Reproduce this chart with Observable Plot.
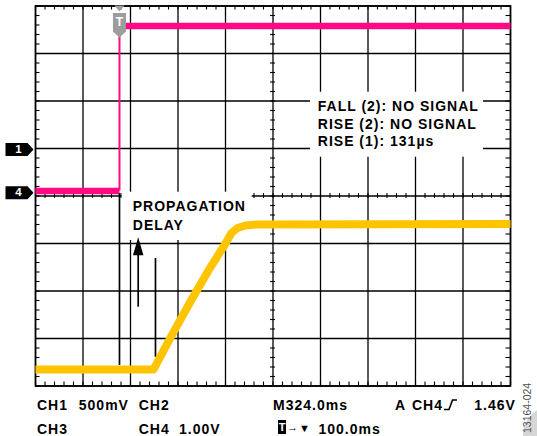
<!DOCTYPE html>
<html><head><meta charset="utf-8">
<script src="https://cdn.jsdelivr.net/npm/d3@7"></script>
<script src="https://cdn.jsdelivr.net/npm/@observablehq/plot@0.6"></script>
<style>
body{margin:0;background:#fff;}
#wrap{position:relative;width:537px;height:436px;overflow:hidden;background:#fff;font-family:"Liberation Sans",Arial,sans-serif;}
#chart{position:absolute;left:0;top:0;}
.lab{position:absolute;font-size:14px;font-weight:bold;line-height:14px;letter-spacing:1px;white-space:nowrap;color:#000;}
.sym{position:absolute;line-height:10px;white-space:nowrap;color:#000;font-weight:bold;}
</style></head><body>
<div id="wrap"><div id="chart"></div></div>
<script>
// ---- screen grid (divisions) ----
const xDivisions = [0, 10];
const yDivisions = [-4, 4];
const minorStep = 0.2;

// ---- pink trace (channel 4 level before / after the edge), in divisions ----
const pinkTime  = [0, 1.768, 1.768, 10];
const pinkLevel = [0.105, 0.105, 3.579, 3.579];
const pinkSegment = ["low", "low", "high", "high"];

// ---- yellow trace, in divisions ----
const yellowTime  = [0, 2.484, 2.842, 3.263, 3.642, 4.0, 4.126, 4.253, 4.421, 4.653, 10];
const yellowLevel = [-3.653, -3.653, -2.979, -2.221, -1.568, -1.0, -0.779, -0.674, -0.621, -0.6, -0.589];

// ---- channel ground markers and trigger ----
const channelLabels = ["1", "4"];
const channelLevels = [0.98, 0.07];
const triggerLabel = "T";
const triggerTime = 1.768;

// ---- measurement readout ----
const measureLines = ["FALL (2): NO SIGNAL", "RISE (2): NO SIGNAL", "RISE (1): 131µs"];
const measureTime = 5.943;
const measureLevels = [1.88, 1.509, 1.143];
const measureBox = {x1: 5.789, x2: 9.432, y1: 0.817, y2: 2.185};

// ---- propagation delay annotation ----
const delayLines = ["PROPAGATION", "DELAY"];
const delayTime = 2.048;
const delayLevels = [-0.225, -0.611];
const delayBox = {x1: 1.825, x2: 4.562, y1: -0.937, y2: 0.08};
const cursorTimes = [1.768, 2.526];
const cursorFrom = [0.05, -1.316];
const cursorTo = [-3.568, -3.394];
const arrowTime = 2.162;
const arrowFrom = -2.341;
const arrowTip = -0.867;

// ---- status bar text ----
const statusRow1 = ["CH1", "500mV", "CH2", "M324.0ms", "A", "CH4", "1.46V"];
const statusRow2 = ["CH3", "CH4", "1.00V", "100.0ms"];
const figureCode = "13164-024";

const PINK = "#ff0a85", YELLOW = "#ffc400";
const tickLenY = 4 / 47.5, tickLenX = 4.5 / 47.5, crossY = 2.4 / 47.5, crossX = 2.4 / 47.5;

const majorX = d3.range(xDivisions[0], xDivisions[1] + 1);
const majorY = d3.range(yDivisions[0], yDivisions[1] + 1);
const minorX = d3.range(0, Math.round((xDivisions[1] - xDivisions[0]) / minorStep) + 1).map(i => xDivisions[0] + i * minorStep);
const minorY = d3.range(0, Math.round((yDivisions[1] - yDivisions[0]) / minorStep) + 1).map(i => yDivisions[0] + i * minorStep);

const pinkData = pinkTime.map((t, i) => ({t, v: pinkLevel[i], seg: pinkSegment[i]}));
const yellowData = yellowTime.map((t, i) => ({t, v: yellowLevel[i]}));
const channels = channelLabels.map((label, i) => ({label, v: channelLevels[i]}));
const cursors = cursorTimes.map((t, i) => ({t, a: cursorFrom[i], b: cursorTo[i]}));
const measures = measureLines.map((text, i) => ({text, t: measureTime, v: measureLevels[i]}));
const delays = delayLines.map((text, i) => ({text, t: delayTime, v: delayLevels[i]}));

const chanSymbol = {draw(c) { c.moveTo(-13, -6.5); c.lineTo(9, -6.5); c.lineTo(15, 0); c.lineTo(9, 6.5); c.lineTo(-13, 6.5); c.closePath(); }};
const trigSymbol = {draw(c) {
  c.moveTo(-5, -0.5); c.lineTo(5, -0.5); c.lineTo(0, 5.5); c.closePath();
  c.moveTo(-6.5, 7); c.lineTo(6.5, 7); c.lineTo(6.5, 25.5); c.lineTo(0, 31.5); c.lineTo(-6.5, 25.5); c.closePath();
}};
const headSymbol = {draw(c) { c.moveTo(0, 0); c.lineTo(5.2, 18); c.lineTo(-5.2, 18); c.closePath(); }};

const chart = Plot.plot({
  width: 537, height: 391,
  marginLeft: 35, marginRight: 27, marginTop: 5.5, marginBottom: 5.5,
  x: {domain: xDivisions, axis: null},
  y: {domain: yDivisions, axis: null},
  style: {fontFamily: '"Liberation Sans", Arial, sans-serif', letterSpacing: "1px", background: "white", overflow: "visible"},
  marks: [
    Plot.ruleX(majorX, {stroke: "#000", strokeWidth: 1.3}),
    Plot.ruleY(majorY, {stroke: "#000", strokeWidth: 1.3}),
    Plot.ruleX(minorX, {x: d => d, y1: yDivisions[1], y2: yDivisions[1] - tickLenY, stroke: "#000", strokeWidth: 1.1}),
    Plot.ruleX(minorX, {x: d => d, y1: yDivisions[0], y2: yDivisions[0] + tickLenY, stroke: "#000", strokeWidth: 1.1}),
    Plot.ruleX(minorX, {x: d => d, y1: -crossY, y2: crossY, stroke: "#000", strokeWidth: 1.1}),
    Plot.ruleY(minorY, {y: d => d, x1: xDivisions[0], x2: xDivisions[0] + tickLenX, stroke: "#000", strokeWidth: 1.1}),
    Plot.ruleY(minorY, {y: d => d, x1: xDivisions[1], x2: xDivisions[1] - tickLenX, stroke: "#000", strokeWidth: 1.1}),
    Plot.ruleY(minorY, {y: d => d, x1: 5 - crossX, x2: 5 + crossX, stroke: "#000", strokeWidth: 1.1}),
    Plot.frame({stroke: "#000", strokeWidth: 1.6}),
    Plot.rect([measureBox, delayBox], {x1: "x1", x2: "x2", y1: "y1", y2: "y2", fill: "white"}),
    Plot.line(pinkData, {x: "t", y: "v", z: "seg", stroke: PINK, strokeWidth: 6.5, strokeLinecap: "butt"}),
    Plot.ruleX([pinkData[1]], {x: "t", y1: pinkLevel[1], y2: pinkLevel[2], stroke: PINK, strokeWidth: 2}),
    Plot.ruleX(cursors, {x: "t", y1: "a", y2: "b", stroke: "#000", strokeWidth: 1.7}),
    Plot.line(yellowData, {x: "t", y: "v", stroke: YELLOW, strokeWidth: 8, strokeLinejoin: "round", strokeLinecap: "butt"}),
    Plot.ruleX([arrowTime], {x: d => d, y1: arrowFrom, y2: arrowTip - 0.1, stroke: "#000", strokeWidth: 1.7}),
    Plot.dot([arrowTime], {x: d => d, y: arrowTip, symbol: headSymbol, r: 5, fill: "#000", stroke: "none"}),
    Plot.text(measures, {x: "t", y: "v", text: "text", textAnchor: "start", fontSize: 14, fontWeight: "bold", fill: "#000"}),
    Plot.text(delays, {x: "t", y: "v", text: "text", textAnchor: "start", fontSize: 14, fontWeight: "bold", fill: "#000"}),
    Plot.dot(channels, {x: xDivisions[0], y: "v", dx: -17, symbol: chanSymbol, r: 6, fill: "#000", stroke: "none"}),
    Plot.text(channels, {x: xDivisions[0], y: "v", dx: -16.5, text: "label", fill: "#fff", fontSize: 11.5, fontWeight: "bold"}),
    Plot.dot([triggerTime], {x: d => d, y: yDivisions[1], symbol: trigSymbol, r: 6, fill: "#9d9d9d", stroke: "none"}),
    Plot.text([triggerTime], {x: d => d, y: yDivisions[1], dy: 16.5, dx: 0.5, text: () => triggerLabel, fill: "#fff", fontSize: 12, fontWeight: "bold"})
  ]
});
const wrap = document.getElementById("wrap");
document.getElementById("chart").append(chart);

// status bar layout (pixel positions of each label)
const row1Left = [37, 78.8, 138.7, 273, 395, 412, 474.3];
const row2Left = [37, 138.7, 179, 318.5];
function addLabel(text, left, baseline) {
  const s = document.createElement("div");
  s.className = "lab";
  s.textContent = text;
  s.style.left = left + "px";
  s.style.top = (baseline - 11.85) + "px";
  wrap.append(s);
}
statusRow1.forEach((t, i) => addLabel(t, row1Left[i], 409.5));
statusRow2.forEach((t, i) => addLabel(t, row2Left[i], 434));

// rising-edge trigger glyph after CH4
const ns = "http://www.w3.org/2000/svg";
const edge = document.createElementNS(ns, "svg");
edge.setAttribute("width", 14); edge.setAttribute("height", 12);
edge.style.cssText = "position:absolute;left:444px;top:398.5px;";
edge.innerHTML = '<path d="M0,10.5 H5 L8.5,1 H13" fill="none" stroke="#000" stroke-width="1.6"/>';
wrap.append(edge);

// trigger-position readout icons
const tbox = document.createElement("div");
tbox.style.cssText = "position:absolute;left:278px;top:420px;width:8px;height:14px;background:#000;color:#fff;font-size:11px;font-weight:bold;line-height:14px;text-align:center;";
tbox.textContent = "T";
wrap.append(tbox);
const arr = document.createElement("div");
arr.className = "sym"; arr.style.cssText += "left:287px;top:422px;font-size:11px;";
arr.textContent = "→";
wrap.append(arr);
const tri = document.createElement("div");
tri.className = "sym"; tri.style.cssText += "left:299px;top:422.5px;font-size:11px;";
tri.textContent = "▼";
wrap.append(tri);

// figure code with grey tab
const circ = document.createElement("div");
circ.style.cssText = "position:absolute;left:523px;top:406px;width:58px;height:58px;border-radius:50%;background:#d6d6d6;";
wrap.append(circ);
const code = document.createElement("div");
code.textContent = figureCode;
code.style.cssText = "position:absolute;left:522px;top:433px;transform-origin:0 0;transform:rotate(-90deg);font-size:10.5px;line-height:11px;color:#4d4d4d;white-space:nowrap;";
wrap.append(code);
</script></body></html>
